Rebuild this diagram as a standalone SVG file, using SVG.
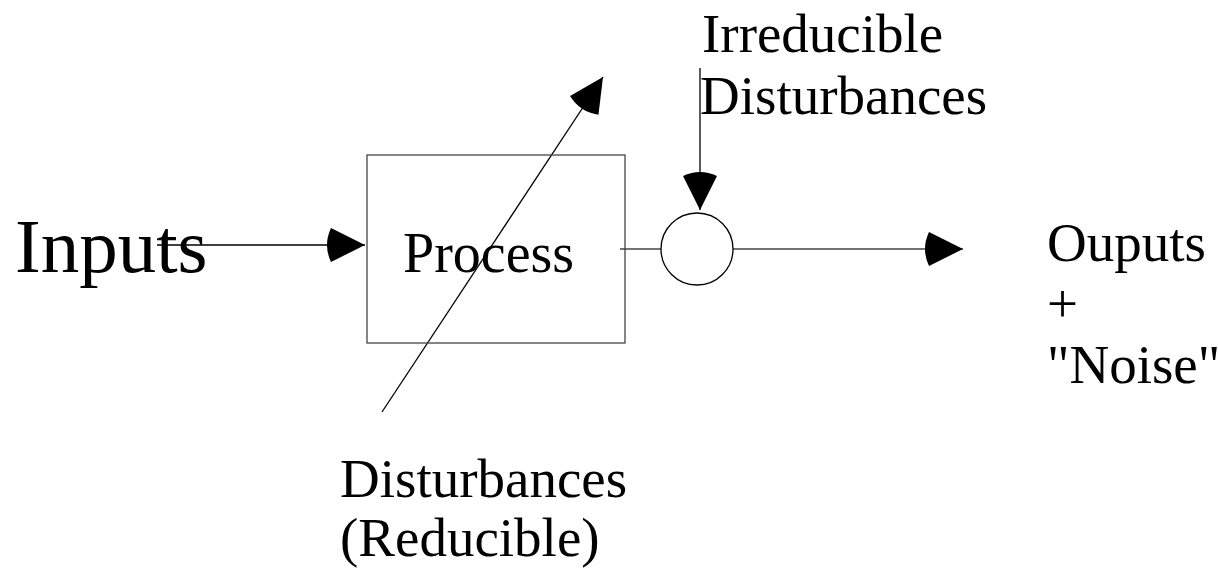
<svg xmlns="http://www.w3.org/2000/svg" width="1218" height="568" viewBox="0 0 1218 568">
<style>
text{font-family:"Liberation Serif","Times New Roman",serif;fill:#000}
.t55{font-size:55px}
.ln{stroke:#000;stroke-width:1.3;fill:none}
.gr{stroke:#444;stroke-width:1.3;fill:none}
</style>
<defs>
<marker id="ah" markerUnits="userSpaceOnUse" markerWidth="50" markerHeight="40" refX="0" refY="0" viewBox="-45 -20 50 40" orient="auto" overflow="visible">
<path d="M0,0 L-34,-17 Q-42,0 -34,17 Z" fill="#000"/>
</marker>
</defs>
<g id="connectors">
<line class="ln" x1="157" y1="245" x2="365" y2="245" marker-end="url(#ah)"/>
<line class="gr" x1="620" y1="249" x2="661" y2="249"/>
<line class="gr" x1="733" y1="249" x2="963" y2="249" marker-end="url(#ah)"/>
<line class="ln" x1="700" y1="68" x2="700" y2="210" marker-end="url(#ah)"/>
<line class="ln" x1="382" y1="412" x2="603" y2="77" marker-end="url(#ah)"/>
</g>
<g id="inputs"><text x="15" y="272" style="font-size:77px">Inputs</text></g>
<g id="process">
<rect x="367" y="155" width="258" height="188" fill="none" stroke="#444" stroke-width="1.3"/>
<text x="403" y="272" style="font-size:56px">Process</text>
</g>
<g id="sum"><circle cx="697" cy="249" r="36" fill="none" stroke="#000" stroke-width="1.3"/></g>
<g id="irreducible">
<text class="t55" x="702" y="52">Irreducible</text>
<text class="t55" x="700" y="114">Disturbances</text>
</g>
<g id="outputs">
<text class="t55" x="1047" y="261">Ouputs</text>
<text class="t55" x="1047" y="322">+</text>
<text class="t55" x="1047" y="383">"Noise"</text>
</g>
<g id="reducible">
<text class="t55" x="340" y="497">Disturbances</text>
<text class="t55" x="340" y="556">(Reducible)</text>
</g>
</svg>
